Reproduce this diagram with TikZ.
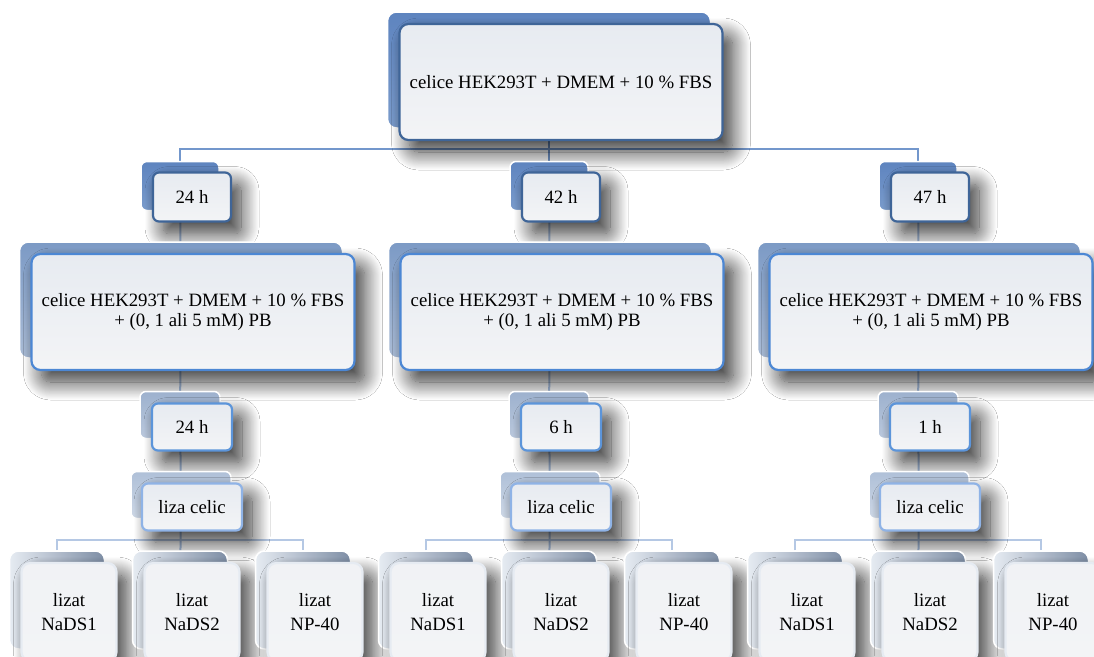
\documentclass[tikz,border=0pt]{standalone}
\usepackage{fontspec}
\setmainfont{Liberation Serif}
\usetikzlibrary{shadows.blur}

\pgfdeclarelayer{background}
\pgfsetlayers{background,main}

\definecolor{linkdark}{HTML}{7397CC}
\definecolor{linklight}{HTML}{A9C1E3}
\definecolor{linkpale}{HTML}{B5C8E4}
\definecolor{edgedark}{HTML}{3F6598}
\definecolor{edgemid}{HTML}{4C87D4}
\definecolor{edgelight}{HTML}{5C95DA}
\definecolor{edgepale}{HTML}{8FB3E6}
\definecolor{edgewhite}{HTML}{E6EBF2}
\definecolor{fronttop}{HTML}{E7EBF1}
\definecolor{frontbot}{HTML}{F3F4F6}
\definecolor{backdtop}{HTML}{5E84BF}
\definecolor{backdbot}{HTML}{7A9BCB}
\definecolor{backmtop}{HTML}{7C9AC5}
\definecolor{backmbot}{HTML}{A9BBD5}
\definecolor{backltop}{HTML}{9DB1CE}
\definecolor{backlbot}{HTML}{BAC8DC}
\definecolor{backptop}{HTML}{AFC0D8}
\definecolor{backpbot}{HTML}{CDD7E5}

\tikzset{
    back/.style={draw=white, line width=1.5pt, inner sep=0pt},
    front/.style={line width=2.2pt, inner sep=0pt, align=center,
        top color=fronttop, bottom color=frontbot,
        blur shadow={shadow xshift=10pt, shadow yshift=-12pt, shadow blur radius=18pt,
            shadow blur steps=20, shadow opacity=80}},
    link/.style={draw=linklight, line width=2pt},
}

\begin{document}
\begin{tikzpicture}[x=1pt,y=-1pt]
    \useasboundingbox (0,0) rectangle (1094,656);
    \clip (0,0) rectangle (1094,656);

    % cells
    \begin{scope}
        \tikzstyle{every node}=[minimum width=323pt, minimum height=116pt, rounded corners=9pt,
            font=\fontsize{18.8}{20}\selectfont]
        \node[back, top color=backdtop, bottom color=backdbot] (cells) at (549,70) {};
        \node[front, draw=edgedark] (cellsf) at ([shift={(12,12)}]cells.center) {celice HEK293T + DMEM + 10 \% FBS};
    \end{scope}

    % first wait
    \begin{scope}
        \tikzstyle{every node}=[minimum width=78pt, minimum height=49pt, rounded corners=6pt,
            font=\fontsize{18.8}{20}\selectfont]
        \node[back, top color=backdtop, bottom color=backdbot] (t24) at (180,186) {};
        \node[front, draw=edgedark] (t24f) at ([shift={(12,11)}]t24.center) {24 h};
        \node[back, top color=backdtop, bottom color=backdbot] (t42) at (549,186) {};
        \node[front, draw=edgedark] (t42f) at ([shift={(12,11)}]t42.center) {42 h};
        \node[back, top color=backdtop, bottom color=backdbot] (t47) at (918,186) {};
        \node[front, draw=edgedark] (t47f) at ([shift={(12,11)}]t47.center) {47 h};
    \end{scope}

    % cells with PB
    \begin{scope}
        \tikzstyle{every node}=[minimum width=323pt, minimum height=116pt, rounded corners=9pt,
            font=\fontsize{18.8}{20}\selectfont]
        \node[back, top color=backmtop, bottom color=backmbot] (pba) at (181,300) {};
        \node[front, draw=edgemid] (pbaf) at ([shift={(12,12)}]pba.center) {celice HEK293T + DMEM + 10 \% FBS\\+ (0, 1 ali 5 mM) PB};
        \node[back, top color=backmtop, bottom color=backmbot] (pbb) at (550,300) {};
        \node[front, draw=edgemid] (pbbf) at ([shift={(12,12)}]pbb.center) {celice HEK293T + DMEM + 10 \% FBS\\+ (0, 1 ali 5 mM) PB};
        \node[back, top color=backmtop, bottom color=backmbot] (pbc) at (919,300) {};
        \node[front, draw=edgemid] (pbcf) at ([shift={(12,12)}]pbc.center) {celice HEK293T + DMEM + 10 \% FBS\\+ (0, 1 ali 5 mM) PB};
    \end{scope}

    % second wait
    \begin{scope}
        \tikzstyle{every node}=[minimum width=80pt, minimum height=47pt, rounded corners=6pt,
            font=\fontsize{18.8}{20}\selectfont]
        \node[back, top color=backltop, bottom color=backlbot] (wa) at (180,415) {};
        \node[front, draw=edgelight] (waf) at ([shift={(12,12)}]wa.center) {24 h};
        \node[back, top color=backltop, bottom color=backlbot] (wb) at (549,415) {};
        \node[front, draw=edgelight] (wbf) at ([shift={(12,12)}]wb.center) {6 h};
        \node[back, top color=backltop, bottom color=backlbot] (wc) at (918,415) {};
        \node[front, draw=edgelight] (wcf) at ([shift={(12,12)}]wc.center) {1 h};
    \end{scope}

    % lysis
    \begin{scope}
        \tikzstyle{every node}=[minimum width=100pt, minimum height=47pt, rounded corners=6pt,
            font=\fontsize{18.8}{20}\selectfont]
        \node[back, top color=backptop, bottom color=backpbot] (lysa) at (181,495) {};
        \node[front, draw=edgepale] (lysaf) at ([shift={(11,12)}]lysa.center) {liza celic};
        \node[back, top color=backptop, bottom color=backpbot] (lysb) at (550,495) {};
        \node[front, draw=edgepale] (lysbf) at ([shift={(11,12)}]lysb.center) {liza celic};
        \node[back, top color=backptop, bottom color=backpbot] (lysc) at (919,495) {};
        \node[front, draw=edgepale] (lyscf) at ([shift={(11,12)}]lysc.center) {liza celic};
    \end{scope}

    % lysates
    \begin{scope}
        \tikzstyle{every node}=[minimum width=95pt, minimum height=98pt, rounded corners=9pt,
            font=\fontsize{18.8}{24}\selectfont]
        \tikzstyle{leafback}=[back, left color=edgewhite, right color=backltop!80!black]
        \tikzstyle{leaffront}=[front, draw=edgewhite, top color=frontbot!80!fronttop, bottom color=frontbot]
        \node[leafback] (s1a) at (57,600) {};
        \node[leaffront] (s1af) at ([shift={(12,12)}]s1a.center) {lizat\\NaDS1};
        \node[leafback] (s2a) at (180,600) {};
        \node[leaffront] (s2af) at ([shift={(12,12)}]s2a.center) {lizat\\NaDS2};
        \node[leafback] (npa) at (303,600) {};
        \node[leaffront] (npaf) at ([shift={(12,12)}]npa.center) {lizat\\NP-40};
        \node[leafback] (s1b) at (426,600) {};
        \node[leaffront] (s1bf) at ([shift={(12,12)}]s1b.center) {lizat\\NaDS1};
        \node[leafback] (s2b) at (549,600) {};
        \node[leaffront] (s2bf) at ([shift={(12,12)}]s2b.center) {lizat\\NaDS2};
        \node[leafback] (npb) at (672,600) {};
        \node[leaffront] (npbf) at ([shift={(12,12)}]npb.center) {lizat\\NP-40};
        \node[leafback] (s1c) at (795,600) {};
        \node[leaffront] (s1cf) at ([shift={(12,12)}]s1c.center) {lizat\\NaDS1};
        \node[leafback] (s2c) at (918,600) {};
        \node[leaffront] (s2cf) at ([shift={(12,12)}]s2c.center) {lizat\\NaDS2};
        \node[leafback] (npc) at (1041,600) {};
        \node[leaffront] (npcf) at ([shift={(12,12)}]npc.center) {lizat\\NP-40};
    \end{scope}

    % connectors
    \begin{pgfonlayer}{background}
        \fill[white] (0,0) rectangle (1094,656);
        \draw[link, draw=linkdark, line width=2.5pt] (t24.north) -- ++(0,-12) -| (t47.north);
        \draw[link, draw=linkdark, line width=2.5pt] (cells) -- (t42);
        \draw[link, draw=linkpale] (s1a.north) -- ++(0,-10) -| (npa.north);
        \draw[link, draw=linkpale] (s1b.north) -- ++(0,-10) -| (npb.north);
        \draw[link, draw=linkpale] (s1c.north) -- ++(0,-10) -| (npc.north);
        \begin{scope}
            \tikzstyle{every edge}=[draw, link]
            \path
            (t24) edge (pba)
            (t42) edge (pbb)
            (t47) edge (pbc)
            (pba) edge (wa)
            (pbb) edge (wb)
            (pbc) edge (wc)
            (wa) edge (lysa)
            (wb) edge (lysb)
            (wc) edge (lysc)
            (lysa) edge (s2a)
            (lysb) edge (s2b)
            (lysc) edge (s2c)
            ;
        \end{scope}
    \end{pgfonlayer}
\end{tikzpicture}
\end{document}
